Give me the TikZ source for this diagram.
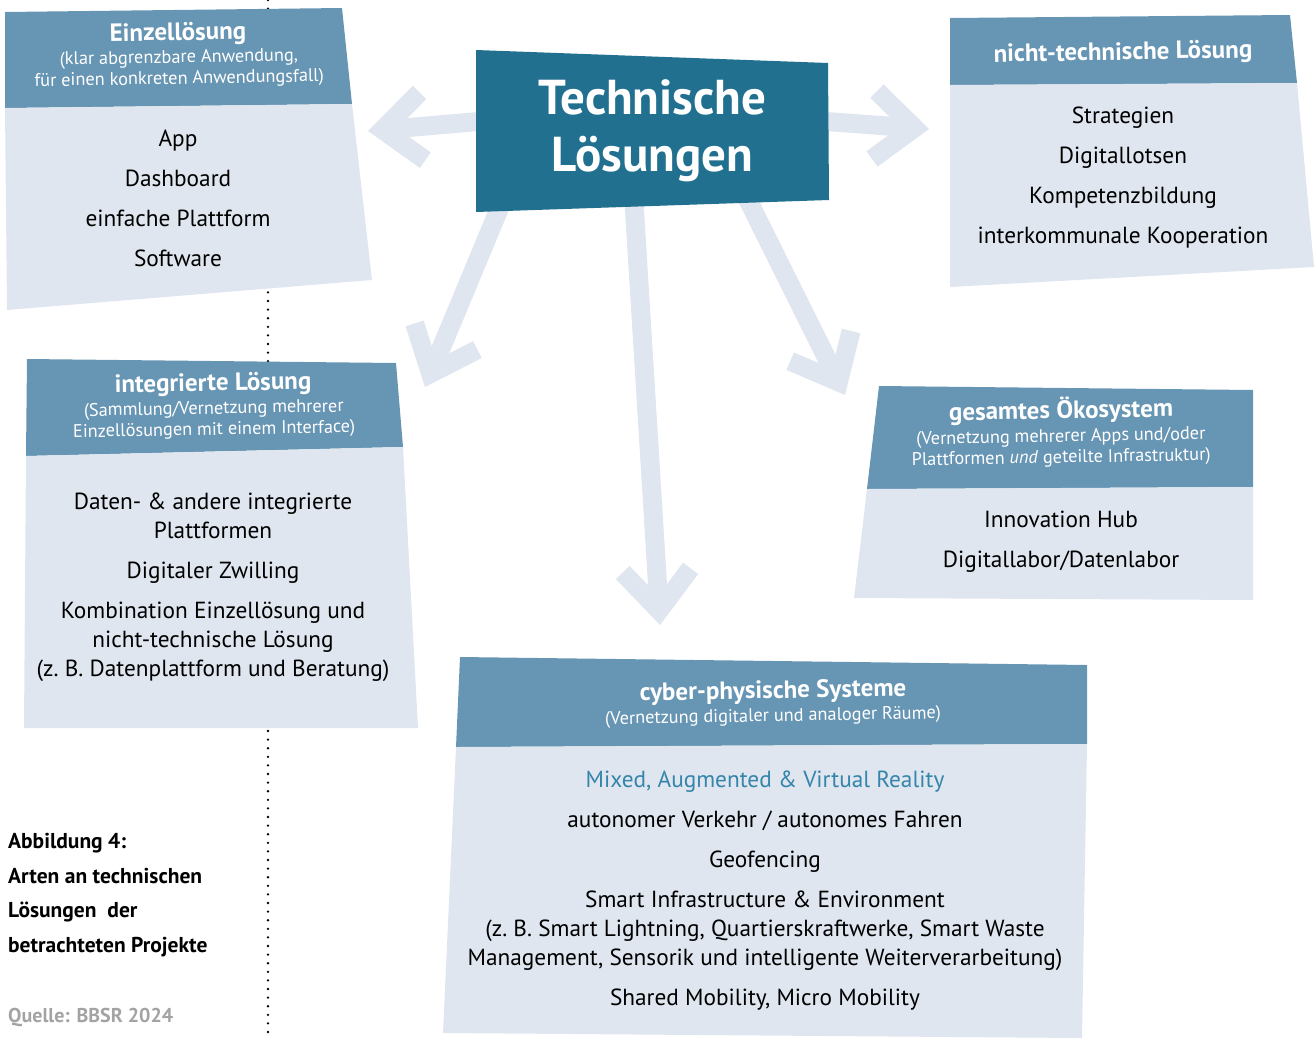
\documentclass[tikz,border=0pt]{standalone}
\usepackage{fontspec}
\setmainfont{PT Sans}
\usetikzlibrary{arrows.meta,backgrounds}
\definecolor{dunkel}{HTML}{22708F}
\definecolor{kopfblau}{HTML}{6795B4}
\definecolor{hell}{HTML}{DFE6EF}
\definecolor{mixed}{HTML}{3585AA}
\definecolor{quelle}{HTML}{A3A3A3}

\begin{document}
\begin{tikzpicture}[x=1pt,y=-1pt]
\tikzset{kopf/.style={text=white, inner sep=1pt, font=\bfseries\fontsize{25}{28}\selectfont, rotate=1},
unterz/.style={text=white, inner sep=1pt, align=center, font=\fontsize{18.3}{21}\selectfont, rotate=1},
liste/.style={align=center, font=\fontsize{23.3}{29}\selectfont},
pfeil/.style={draw=hell, line width=19pt, -{Straight Barb[length=40pt,width=68pt]}, shorten <=-30pt}}
\useasboundingbox (0,0) rectangle (1314,1039);
\fill[kopfblau] (5,12) -- (342,8) -- (352,104) -- (5,108) -- cycle;
\fill[hell] (5,108) -- (352,104) -- (372,280) -- (7,310) -- cycle;
\fill[kopfblau] (950,18) -- (1290,15) -- (1297,83) -- (950,85) -- cycle;
\fill[hell] (950,85) -- (1297,83) -- (1314,267) -- (950,287) -- cycle;
\fill[kopfblau] (27,359) -- (396,363) -- (403,447) -- (26,456) -- cycle;
\fill[hell] (26,456) -- (403,447) -- (418,728) -- (24,728) -- cycle;
\fill[kopfblau] (879,386) -- (1253,390) -- (1253,487) -- (867,489) -- cycle;
\fill[hell] (867,489) -- (1253,487) -- (1253,600) -- (854,598) -- cycle;
\fill[kopfblau] (460,657) -- (1087,665) -- (1087,744) -- (456,747) -- cycle;
\fill[hell] (456,747) -- (1087,744) -- (1082,1038) -- (443,1033) -- cycle;
\fill[dunkel] (476,50) -- (828,63) -- (829,200) -- (476,212) -- cycle;
\node[text=white, align=center, minimum width=353pt, minimum height=156pt, font=\bfseries\fontsize{49}{57}\selectfont] (T) at (652.5,131) {Technische\\Lösungen};
\node[kopf] (H1) at (178,34) {Einzellösung};
\node[unterz] (U1) at (179,69) {(klar abgrenzbare Anwendung,\\für einen konkreten Anwendungsfall)};
\node[liste] (L1) at (178,198.5) {App\\[11pt]Dashboard\\[11pt]einfache Plattform\\[11pt]Software};
\node[kopf] (H2) at (1123,53.5) {nicht-technische Lösung};
\node[liste] (L2) at (1123,177.5) {Strategien\\[11pt]Digitallotsen\\[11pt]Kompetenzbildung\\[11pt]interkommunale Kooperation};
\node[kopf] (H3) at (213,384.5) {integrierte Lösung};
\node[unterz] (U3) at (214,420) {(Sammlung/Vernetzung mehrerer\\Einzellösungen mit einem Interface)};
\node[liste] (L3) at (213,587) {Daten- \& andere integrierte\\Plattformen\\[11pt]Digitaler Zwilling\\[11pt]Kombination Einzellösung und\\nicht-technische Lösung\\(z.~B. Datenplattform und Beratung)};
\node[kopf] (H4) at (1061,410.5) {gesamtes Ökosystem};
\node[unterz] (U4) at (1061,448) {(Vernetzung mehrerer Apps und/oder\\Plattformen \textit{und} geteilte Infrastruktur)};
\node[liste] (L4) at (1061,542) {Innovation Hub\\[11pt]Digitallabor/Datenlabor};
\node[kopf] (H5) at (773,692) {cyber-physische Systeme};
\node[unterz] (U5) at (773,717) {(Vernetzung digitaler und analoger Räume)};
\node[liste] (L5) at (765,890.5) {\textcolor{mixed}{Mixed, Augmented \& Virtual Reality}\\[11pt]autonomer Verkehr / autonomes Fahren\\[11pt]Geofencing\\[11pt]Smart Infrastructure \& Environment\\(z.~B. Smart Lightning, Quartierskraftwerke, Smart Waste\\Management, Sensorik und intelligente Weiterverarbeitung)\\[11pt]Shared Mobility, Micro Mobility};
\node[anchor=west, inner sep=0pt, align=left, font=\bfseries\fontsize{21.5}{34.5}\selectfont] (A) at (8,895) {Abbildung 4:\\Arten an technischen\\Lösungen\ \ der\\betrachteten Projekte};
\node[anchor=west, inner sep=0pt, text=quelle, font=\bfseries\fontsize{20}{23}\selectfont] (Q) at (8,1017) {Quelle: BBSR 2024};
\begin{scope}[on background layer]
\draw[line width=2.6pt, line cap=round, dash pattern=on 0pt off 8.6pt] (268,0) -- (268,1039);
\coordinate (P1) at (368,131);
\coordinate (P2) at (929,129);
\coordinate (P3) at (425,387);
\coordinate (P4) at (660,625);
\coordinate (P5) at (845,395);
\draw[pfeil] (T.177) -- (P1);
\draw[pfeil] (T.3) -- (P2);
\draw[pfeil] (T.207) -- (P3);
\draw[pfeil] (T.257) -- (P4);
\draw[pfeil] (T.322) -- (P5);
\end{scope}
\end{tikzpicture}
\end{document}
